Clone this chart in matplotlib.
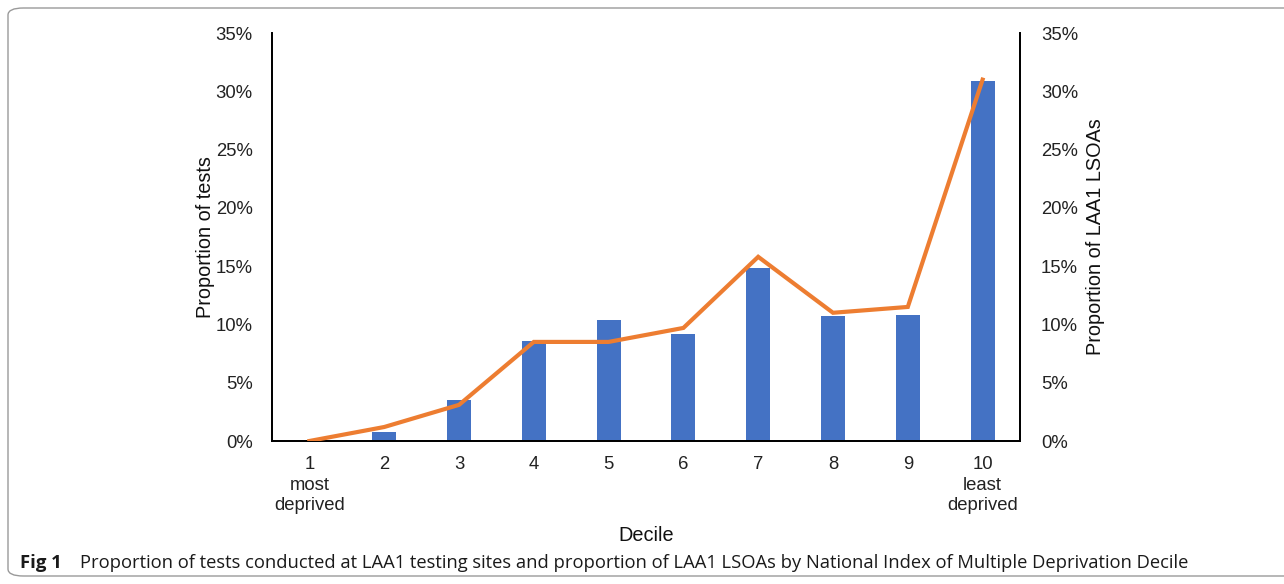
import matplotlib
matplotlib.use("Agg")
import matplotlib.pyplot as plt
from matplotlib.patches import FancyBboxPatch
from matplotlib.ticker import FuncFormatter
import numpy as np

plt.rcParams['font.family'] = ['Liberation Sans', 'DejaVu Sans']

# data
deciles = np.arange(1, 11)
tick_labels = ["1\nmost\ndeprived", "2", "3", "4", "5", "6", "7", "8", "9", "10\nleast\ndeprived"]
tests_pct = [0.0, 0.8, 3.5, 8.6, 10.4, 9.2, 14.8, 10.7, 10.8, 30.9]
lsoa_pct = [0.0, 1.2, 3.1, 8.5, 8.5, 9.7, 15.8, 11.0, 11.5, 31.0]

fig = plt.figure(figsize=(12.84, 5.84), dpi=100)
ax = fig.add_axes([272 / 1284, 1 - 441 / 584, (1020 - 272) / 1284, (441 - 33) / 584])
ax2 = ax.twinx()

ax.bar(deciles, tests_pct, width=0.32, color="#4472C4", zorder=2)
ax2.plot(deciles, lsoa_pct, color="#ED7D31", lw=3.0, solid_joinstyle="miter", zorder=3)
ax2.set_zorder(ax.get_zorder() + 1)
ax2.patch.set_visible(False)

pct = FuncFormatter(lambda v, p: "{:.0f}%".format(v))
for a in (ax, ax2):
    a.set_ylim(0, 35)
    a.set_yticks(np.arange(0, 36, 5))
    a.yaxis.set_major_formatter(pct)
    a.set_xlim(0.5, 10.5)
    a.spines["top"].set_visible(False)
    for s in ("left", "right", "bottom"):
        a.spines[s].set_linewidth(1.3)
        a.spines[s].set_color("black")
    a.tick_params(axis="y", length=0, labelsize=13.3, colors="#222222")

ax.tick_params(axis="y", pad=14)
ax2.tick_params(axis="y", pad=15)
ax.set_xticks(deciles)
ax.set_xticklabels(tick_labels, fontsize=13.3, color="#222222", linespacing=1.25)
ax.tick_params(axis="x", length=0, pad=11)

ax.set_ylabel("Proportion of tests", fontsize=14.3, color="#111111")
ax2.set_ylabel("Proportion of LAA1 LSOAs", fontsize=14.3, labelpad=6, color="#111111")
ax.set_xlabel("Decile", fontsize=14.3, labelpad=9, color="#111111")
ax.yaxis.set_label_coords(-0.076, 0.5)

# outer rounded frame and caption
frame = FancyBboxPatch((8 / 1284, 8 / 584), 1.2, 1 - 16 / 584,
                       boxstyle="round,pad=0,rounding_size=0.012",
                       transform=fig.transFigure, fill=False,
                       edgecolor="#9a9a9a", lw=1.0, clip_on=False)
fig.patches.append(frame)

fig.text(20 / 1284, 1 - 563 / 584, "Fig 1", fontsize=13.3, fontweight="bold",
         family="Open Sans", va="center", color="#1a1a1a")
fig.text(80 / 1284, 1 - 563 / 584,
         "Proportion of tests conducted at LAA1 testing sites and proportion of LAA1 LSOAs by National Index of Multiple Deprivation Decile",
         fontsize=13.2, family="Open Sans", va="center", color="#1a1a1a")

fig.savefig("out.png", dpi=100)
